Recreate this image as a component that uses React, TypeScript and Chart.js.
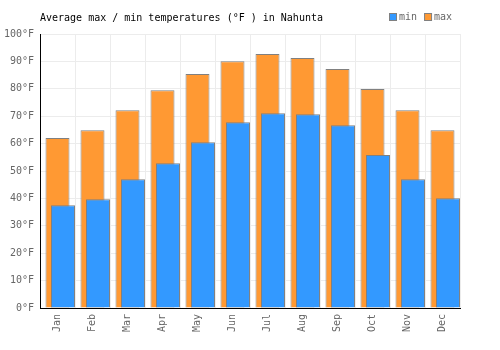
import React, { useEffect, useRef } from "react";
import { Chart, registerables } from "chart.js";

Chart.register(...registerables);

const months = ["Jan", "Feb", "Mar", "Apr", "May", "Jun", "Jul", "Aug", "Sep", "Oct", "Nov", "Dec"];
const minTemps = [37.5, 39.7, 47.0, 52.8, 60.5, 67.8, 71.1, 70.7, 66.7, 55.8, 47.0, 40.1];
const maxTemps = [62.0, 64.9, 72.2, 79.5, 85.4, 90.1, 92.7, 91.2, 87.2, 79.9, 72.2, 64.9];
const spacer = months.map(() => null);
const yMin = 0;
const yMax = 100;
const yStep = 10;
const unit = "°F";
const titleText = "Average max / min temperatures (°F ) in Nahunta";
const legendItems = [
  { label: "min", color: "#3399ff" },
  { label: "max", color: "#ff9933" },
];

const FONT = "'DejaVu Sans Mono', 'Liberation Mono', monospace";
const BORDER = "#808080";

// draw datasets in index order (later ones on top)
const drawOrderPlugin = {
  id: "drawOrder",
  beforeDatasetDraw() {
    return false;
  },
  afterDatasetsDraw(chart: any) {
    const n = chart.data.datasets.length;
    for (let i = 0; i < n; i++) {
      const meta = chart.getDatasetMeta(i);
      if (!meta.hidden && chart.isDatasetVisible(i)) meta.controller.draw();
    }
  },
};

const headerPlugin = {
  id: "header",
  afterDraw(chart: any) {
    const { ctx, chartArea } = chart;
    ctx.save();
    ctx.font = `10px ${FONT}`;
    ctx.textBaseline = "middle";
    ctx.textAlign = "left";
    ctx.fillStyle = "#000";
    ctx.fillText(titleText, chartArea.left, 18);

    const box = 7;
    const gap = 3;
    const itemGap = 7;
    const widths = legendItems.map((it) => box + gap + ctx.measureText(it.label).width);
    const total = widths.reduce((a, b) => a + b, 0) + itemGap * (legendItems.length - 1);
    let x = Math.round(chartArea.right - 8 - total);
    legendItems.forEach((it, i) => {
      ctx.fillStyle = it.color;
      ctx.fillRect(x + 0.5, 13.5, box, box);
      ctx.strokeStyle = BORDER;
      ctx.lineWidth = 1;
      ctx.strokeRect(x + 0.5, 13.5, box, box);
      ctx.fillStyle = "#666";
      ctx.fillText(it.label, x + box + gap, 17.5);
      x += widths[i] + itemGap;
    });
    ctx.restore();
  },
};

export default function App() {
  const canvasRef = useRef<HTMLCanvasElement | null>(null);

  useEffect(() => {
    if (!canvasRef.current) return;
    const chart = new Chart(canvasRef.current, {
      type: "bar",
      data: {
        labels: months,
        datasets: [
          {
            label: "spacer",
            data: spacer,
            backgroundColor: "rgba(0,0,0,0)",
          },
          {
            label: "max",
            data: maxTemps,
            backgroundColor: "#ff9933",
            borderColor: BORDER,
            borderWidth: 1,
          },
          {
            label: "min",
            data: minTemps,
            backgroundColor: "#3399ff",
            borderColor: BORDER,
            borderWidth: 1,
          },
        ] as any,
      },
      options: {
        responsive: false,
        animation: false,
        devicePixelRatio: 1,
        datasets: {
          bar: {
            categoryPercentage: 0.4714,
            barPercentage: 4.36,
          },
        } as any,
        layout: { padding: { top: 34, right: 40, left: 0, bottom: 0 } },
        plugins: {
          legend: { display: false },
          title: { display: false },
          tooltip: { enabled: false },
        },
        scales: {
          x: {
            grid: { color: "#ececec", drawTicks: false, offset: true },
            border: { color: "#000", width: 1 },
            ticks: {
              color: "#666",
              font: { family: FONT, size: 10 },
              minRotation: 90,
              maxRotation: 90,
              autoSkip: false,
              padding: 6,
            },
            afterFit(scale: any) {
              scale.height = 42;
            },
          },
          y: {
            min: yMin,
            max: yMax,
            grid: { color: "#ececec", drawTicks: false },
            border: { color: "#000", width: 1 },
            ticks: {
              stepSize: yStep,
              color: "#666",
              font: { family: FONT, size: 10 },
              padding: 6,
              callback: (v: any) => `${v}${unit}`,
            },
            afterFit(scale: any) {
              scale.width = 40;
            },
          },
        },
      },
      plugins: [drawOrderPlugin, headerPlugin],
    });
    return () => chart.destroy();
  }, []);

  return (
    <div style={{ position: "fixed", left: 0, top: 0, width: 500, height: 350, background: "#fff" }}>
      <canvas ref={canvasRef} width={500} height={350} />
    </div>
  );
}
